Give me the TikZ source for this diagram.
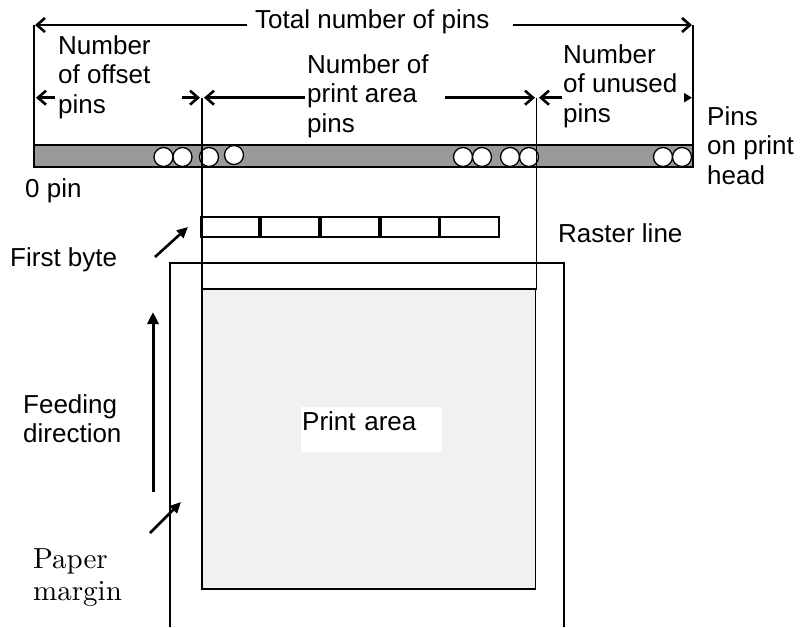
\documentclass[tikz,border=0pt]{standalone}
\usepackage{fontspec}
\setsansfont{Liberation Sans}
\renewcommand\familydefault{\sfdefault}
\newfontfamily\pmfont{lmroman10-regular.otf}
\usetikzlibrary{arrows.meta}
\definecolor{bargray}{HTML}{999999}
\definecolor{areagray}{HTML}{F1F1F1}
\begin{document}
\begin{tikzpicture}[x=1pt,y=-1pt,
  lbl/.style={font=\fontsize{26}{29.5}\selectfont, align=left, inner sep=0pt, anchor=base west},
  serif/.style={font=\pmfont\fontsize{29}{32}\selectfont, align=left, inner sep=0pt, anchor=base west},
  thinline/.style={line width=1.6pt},
  dim/.style={line width=2.6pt, -{Straight Barb[length=8pt,width=14pt]}},
  solidarrow/.style={line width=2.6pt, -{Triangle[length=11pt,width=10pt]}},
  pin/.style={line width=1.3pt, fill=white}]
\useasboundingbox (0,0) rectangle (801,627);

% paper
\draw[thinline] (170,627) -- (170,263) -- (564,263) -- (564,627);
% print area
\draw[thinline, fill=areagray] (202,289) rectangle (535.5,589);
\node[fill=white, inner xsep=1pt, inner ysep=0pt, anchor=north west, text height=23pt, text depth=22pt,
  text width=139pt, align=left, font=\fontsize{26}{29.5}\selectfont] (pa) at (301,407) {Print area};

% bar
\draw[line width=1.3pt, fill=bargray] (34,145) rectangle (693,167);
\foreach \cx/\cy in {163.5/157,182.5/157,209/157,234/155,463/157,482/157,510/157,529/157,663/157,682/157}
  \draw[pin] (\cx,\cy) circle (9.5);

% frame lines
\draw[thinline] (202,97.7) -- (202,289) -- (536.5,289) -- (536.5,97.7);
\draw[thinline] (34,25) -- (34,168);
\draw[thinline] (693,25) -- (693,168);

% raster line cells
\foreach \i in {0,...,4}
  \draw[thinline] ({201+\i*59.9},217) rectangle ({201+\i*59.9+58.2},237);

% coordinates for dimension arrows
\coordinate (L0) at (35,25);
\coordinate (R0) at (692,25);
\coordinate (tl) at (247,25);
\coordinate (tr) at (513,25);
\coordinate (oL) at (36,97.7);
\coordinate (oLs) at (55,97.7);
\coordinate (oR) at (200,97.7);
\coordinate (oRs) at (182,97.7);
\coordinate (pL) at (204,97.7);
\coordinate (pLs) at (305,97.7);
\coordinate (pR) at (535,97.7);
\coordinate (pRs) at (445,97.7);
\coordinate (uL) at (539,97.7);
\coordinate (uLs) at (562,97.7);
\coordinate (uR) at (692,97.7);
\coordinate (uRs) at (684,97.7);

% texts (base anchor = baseline of last line)
\node[lbl] (tot) at (255,28.5) {Total number of pins};
\node[lbl] (off) at (58,113) {Number\\of offset\\pins};
\node[lbl] (pap) at (307,132) {Number of\\print area\\pins};
\node[lbl] (unu) at (563,122) {Number\\of unused\\pins};
\node[lbl] (poh) at (707,184) {Pins\\on print\\head};
\node[lbl] (zero) at (25,197) {0 pin};
\node[lbl] (ras) at (558,242) {Raster line};
\node[lbl] (fb) at (10,266) {First byte};
\node[lbl] (fd) at (23,442.5) {Feeding\\direction};
\node[serif] (pm) at (33,600) {Paper\\margin};

% dimension arrows
\draw[dim] (tl) -- (L0);
\draw[dim] (tr) -- (R0);
\draw[dim] (oLs) -- (oL);
\draw[dim] (oRs) -- (oR);
\draw[dim] (pLs) -- (pL);
\draw[dim] (pRs) -- (pR);
\draw[dim] (uLs) -- (uL);
\draw[line width=2pt, -{Triangle[length=8pt,width=9pt]}] (uRs) -- (uR);

% pointer arrows
\coordinate (fbs) at (155,257);
\coordinate (fbe) at (188,227);
\draw[solidarrow] (fbs) -- (fbe);
\coordinate (pms) at (150,533);
\coordinate (pme) at (181,502);
\draw[solidarrow] (pms) -- (pme);
\coordinate (fds) at (153,492);
\coordinate (fde) at (153,312);
\draw[line width=3pt, -{Triangle[length=12pt,width=11pt]}] (fds) -- (fde);
\end{tikzpicture}
\end{document}
